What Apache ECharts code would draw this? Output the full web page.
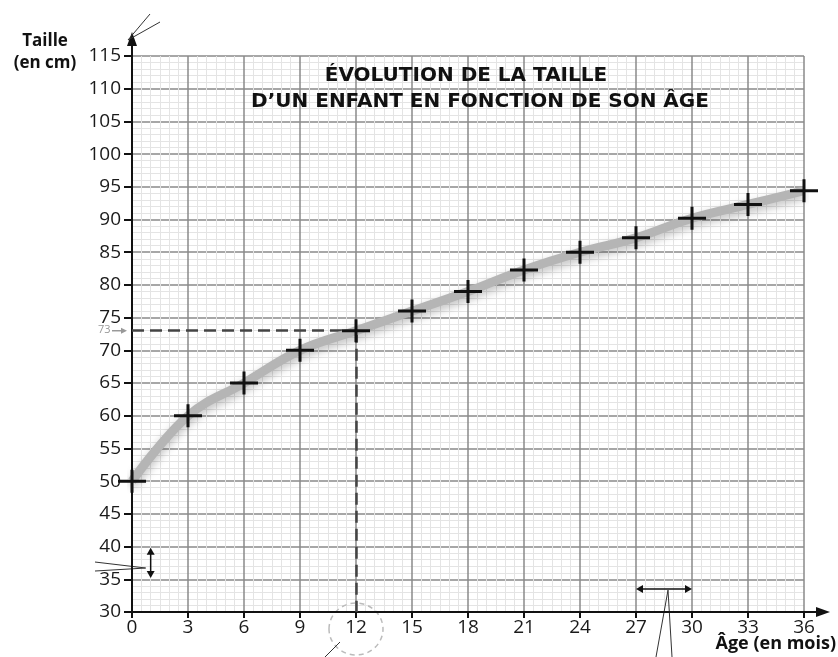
<!DOCTYPE html>
<html><head><meta charset="utf-8">
<script src="https://cdn.jsdelivr.net/npm/echarts@6/dist/echarts.min.js"></script>
<style>html,body{margin:0;padding:0;background:#fff}#c{width:838px;height:657px}</style>
</head><body><div id="c"></div>
<script>
const ages = [0, 3, 6, 9, 12, 15, 18, 21, 24, 27, 30, 33, 36];
const heights = [50, 60, 65, 70, 73, 76, 79, 82.3, 85, 87.2, 90.2, 92.3, 94.4];
const readAge = 12, readHeight = 73;
const titleLines = ['ÉVOLUTION DE LA TAILLE', 'D’UN ENFANT EN FONCTION DE SON ÂGE'];
const FONT = '"Open Sans", "Noto Sans", sans-serif';
const TFONT = '"DejaVu Sans", "Open Sans", sans-serif';
const cross = 'path://M0,10 L28,10 L28,13 L0,13 Z M12.5,0 L15.5,0 L15.5,23 L12.5,23 Z';

const chart = echarts.init(document.getElementById('c'));
chart.setOption({
  animation: false,
  backgroundColor: '#fff',
  grid: {left: 132, right: 34, top: 56, bottom: 45, containLabel: false},
  xAxis: {
    type: 'value', min: 0, max: 36, interval: 3,
    axisLine: {show: true, onZero: false, lineStyle: {color: '#111', width: 2}},
    axisTick: {show: true, length: 6, inside: false, lineStyle: {color: '#111', width: 2}},
    axisLabel: {color: '#1a1a1a', fontSize: 19, fontFamily: FONT, margin: 6},
    splitLine: {show: true, lineStyle: {color: '#8a8a8a', width: 1.5}},
    minorTick: {show: false, splitNumber: 6},
    minorSplitLine: {show: true, lineStyle: {color: '#e4e4e4', width: 1}}
  },
  yAxis: {
    type: 'value', min: 30, max: 115, interval: 5,
    axisLine: {show: true, onZero: false, lineStyle: {color: '#111', width: 2}},
    axisTick: {show: true, length: 8, lineStyle: {color: '#111', width: 2}},
    axisLabel: {color: '#1a1a1a', fontSize: 19, fontFamily: FONT, margin: 11},
    splitLine: {show: true, lineStyle: {color: '#8a8a8a', width: 1.5}},
    minorTick: {show: false, splitNumber: 5},
    minorSplitLine: {show: true, lineStyle: {color: '#e4e4e4', width: 1}}
  },
  series: [{
    type: 'line',
    data: ages.map((a, i) => [a, heights[i]]),
    smooth: 0.4,
    lineStyle: {color: '#b5b5b5', width: 9, shadowColor: 'rgba(0,0,0,0.25)', shadowBlur: 8, shadowOffsetY: 4},
    symbol: cross, symbolSize: [28, 23], symbolKeepAspect: false,
    itemStyle: {color: '#111', borderWidth: 0},
    z: 5,
    markLine: {
      silent: true, symbol: 'none', label: {show: false},
      lineStyle: {color: '#444', type: [12, 6], width: 2.5, opacity: 1},
      data: [
        [{coord: [0, readHeight]}, {coord: [readAge, readHeight]}],
        [{coord: [readAge, readHeight]}, {coord: [readAge, 30]}]
      ]
    }
  }]
});

function px(x, y) { return chart.convertToPixel({gridIndex: 0}, [x, y]); }
const o = px(0, 30), yTop = px(0, 115), xEnd = px(36, 30);
const p73 = px(0, readHeight), p12 = px(readAge, 30);
const a1a = px(1, 35.5), a1b = px(1, 39.5);
const h27 = px(27, 33.5), h30 = px(30, 33.5);

chart.setOption({
  graphic: [
    {type: 'line', shape: {x1: o[0], y1: yTop[1], x2: o[0], y2: yTop[1] - 14}, style: {stroke: '#111', lineWidth: 2}},
    {type: 'polygon', shape: {points: [[o[0] - 5, yTop[1] - 10], [o[0] + 5, yTop[1] - 10], [o[0], yTop[1] - 24]]}, style: {fill: '#111'}},
    {type: 'line', shape: {x1: xEnd[0], y1: o[1], x2: xEnd[0] + 16, y2: o[1]}, style: {stroke: '#111', lineWidth: 2}},
    {type: 'polygon', shape: {points: [[xEnd[0] + 12, o[1] - 5], [xEnd[0] + 12, o[1] + 5], [xEnd[0] + 26, o[1]]]}, style: {fill: '#111'}},
    {type: 'text', x: 45, y: 30, style: {text: 'Taille\n(en cm)', font: 'bold 17px ' + FONT, fill: '#111', align: 'center', lineHeight: 22}},
    {type: 'text', x: 836, y: 635, style: {text: 'Âge (en mois)', font: 'bold 18px ' + FONT, fill: '#111', align: 'right'}},
    {type: 'text', x: 466, y: 66, z: 10, style: {text: titleLines[0], font: 'bold 20px ' + TFONT, fill: '#111', align: 'center'}},
    {type: 'text', x: 480, y: 92, z: 10, style: {text: titleLines[1], font: 'bold 20px ' + TFONT, fill: '#111', align: 'center'}},
    {type: 'text', x: 98, y: p73[1] - 6, style: {text: '73', font: '11px ' + FONT, fill: '#999'}},
    {type: 'line', shape: {x1: 112, y1: p73[1], x2: 124, y2: p73[1]}, style: {stroke: '#999', lineWidth: 1.5}},
    {type: 'polygon', shape: {points: [[121, p73[1] - 3], [121, p73[1] + 3], [127, p73[1]]]}, style: {fill: '#999'}},
    {type: 'ellipse', shape: {cx: p12[0], cy: p12[1] + 17, rx: 27, ry: 26}, style: {fill: 'none', stroke: '#bbb', lineWidth: 1.5, lineDash: [5, 4]}},
    {type: 'line', shape: {x1: a1a[0], y1: a1a[1] - 4, x2: a1b[0], y2: a1b[1] + 4}, style: {stroke: '#111', lineWidth: 1.5}},
    {type: 'polygon', shape: {points: [[a1b[0] - 4, a1b[1] + 5], [a1b[0] + 4, a1b[1] + 5], [a1b[0], a1b[1] - 2]]}, style: {fill: '#111'}},
    {type: 'polygon', shape: {points: [[a1a[0] - 4, a1a[1] - 5], [a1a[0] + 4, a1a[1] - 5], [a1a[0], a1a[1] + 2]]}, style: {fill: '#111'}},
    {type: 'line', shape: {x1: h27[0] + 4, y1: h27[1], x2: h30[0] - 4, y2: h30[1]}, style: {stroke: '#111', lineWidth: 1.5}},
    {type: 'polygon', shape: {points: [[h27[0] + 7, h27[1] - 4], [h27[0] + 7, h27[1] + 4], [h27[0], h27[1]]]}, style: {fill: '#111'}},
    {type: 'polygon', shape: {points: [[h30[0] - 7, h30[1] - 4], [h30[0] - 7, h30[1] + 4], [h30[0], h30[1]]]}, style: {fill: '#111'}},
    {type: 'line', shape: {x1: 668, y1: h27[1] + 1, x2: 656, y2: 657}, style: {stroke: '#333', lineWidth: 1}},
    {type: 'line', shape: {x1: 668, y1: h27[1] + 1, x2: 672, y2: 657}, style: {stroke: '#333', lineWidth: 1}},
    {type: 'line', shape: {x1: a1a[0] - 5, y1: a1a[1] - 8, x2: 95, y2: a1a[1] - 14}, style: {stroke: '#333', lineWidth: 1}},
    {type: 'line', shape: {x1: a1a[0] - 5, y1: a1a[1] - 8, x2: 95, y2: a1a[1] - 5}, style: {stroke: '#333', lineWidth: 1}},
    {type: 'line', shape: {x1: 340, y1: 642, x2: 325, y2: 657}, style: {stroke: '#333', lineWidth: 1}},
    {type: 'line', shape: {x1: 128, y1: 40, x2: 150, y2: 14}, style: {stroke: '#333', lineWidth: 1}},
    {type: 'line', shape: {x1: 128, y1: 40, x2: 160, y2: 22}, style: {stroke: '#333', lineWidth: 1}}
  ]
});
</script></body></html>
